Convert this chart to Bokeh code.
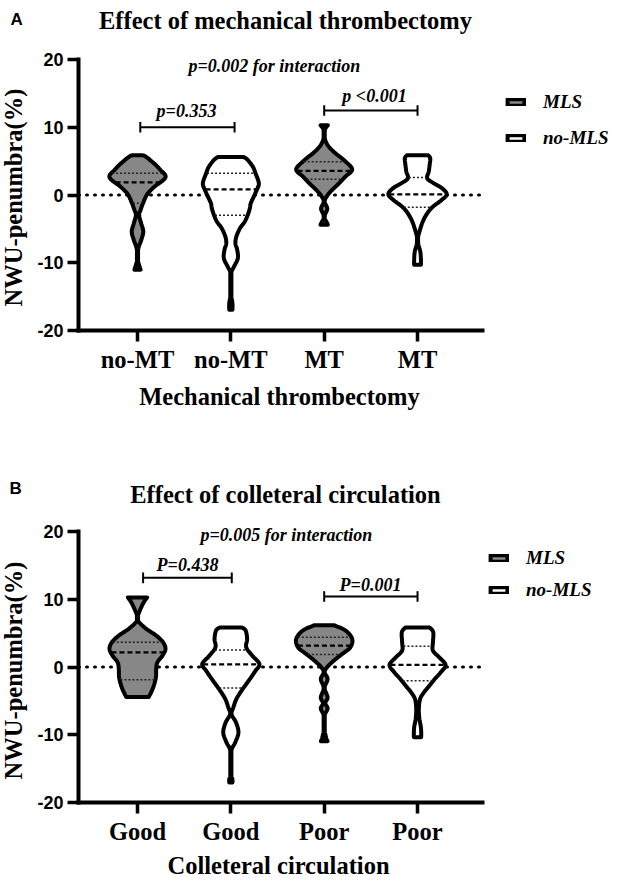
import numpy as np
from bokeh.plotting import figure
from bokeh.models import Range1d, FixedTicker, Label, Legend, LegendItem
from bokeh.layouts import column
from bokeh.embed import file_html
from bokeh.resources import INLINE

# ---------------- data ----------------
groups_a = ["no-MT", "no-MT", "MT", "MT"]
groups_b = ["Good", "Good", "Poor", "Poor"]
series = ["MLS", "no-MLS", "MLS", "no-MLS"]
y_ticks = [-20, -10, 0, 10, 20]

# violin profiles: NWU-penumbra level and relative density (1 = widest)
a1_y = [6.16, 5.7, 4.7, 3.7, 2.6, 1.22, 0.1, -1.23, -2.2, -2.95, -4.19, -5.42, -6.65, -7.64, -8.6, -9.6, -10.34, -11.32]
a1_d = [0.22, 0.33, 0.61, 0.83, 1.0, 0.63, 0.39, 0.25, 0.17, 0.12, 0.19, 0.26, 0.19, 0.11, 0.07, 0.08, 0.12, 0.17]
a2_y = [5.91, 5.17, 4.18, 3.2, 1.72, 0.74, -0.25, -1.23, -1.97, -2.95, -3.94, -4.92, -6.15, -7.14, -8.12, -9.36, -10.59, -11.57, -13.05, -14.52, -16.0, -17.24]
a2_d = [0.5, 0.63, 0.8, 0.89, 1.0, 0.93, 0.83, 0.73, 0.7, 0.63, 0.53, 0.37, 0.25, 0.22, 0.28, 0.3, 0.17, 0.07, 0.07, 0.07, 0.12, 0.12]
a3_y = [10.59, 9.85, 9.11, 8.13, 7.14, 6.16, 5.17, 3.79, 2.71, 1.72, 0.74, -0.15, -0.98, -1.97, -2.71, -3.3, -3.94, -4.68]
a3_d = [0.19, 0.11, 0.06, 0.1, 0.22, 0.44, 0.72, 1.0, 0.77, 0.56, 0.33, 0.16, 0.08, 0.17, 0.11, 0.06, 0.14, 0.19]
a4_y = [6.16, 5.42, 4.43, 3.45, 2.46, 1.72, 0.98, 0.1, -0.74, -1.72, -2.71, -3.94, -5.42, -6.4, -7.39, -8.37, -9.6, -10.6]
a4_d = [0.42, 0.49, 0.47, 0.44, 0.39, 0.61, 0.89, 1.04, 0.87, 0.58, 0.39, 0.24, 0.13, 0.08, 0.1, 0.16, 0.18, 0.18]

b1_y = [10.57, 9.58, 8.59, 7.36, 6.62, 5.63, 4.64, 3.65, 2.67, 1.68, 0.69, -0.3, -1.53, -2.77, -3.75, -4.74]
b1_d = [0.39, 0.28, 0.17, 0.07, 0.12, 0.36, 0.69, 0.92, 1.0, 0.9, 0.73, 0.69, 0.68, 0.61, 0.52, 0.44]
b2_y = [6.12, 5.38, 4.15, 2.91, 1.68, 0.44, -0.54, -1.53, -2.52, -3.51, -4.74, -5.98, -6.96, -8.2, -9.68, -11.16, -12.25, -14.1, -15.85, -16.59, -17.33]
b2_d = [0.44, 0.56, 0.61, 0.58, 0.78, 1.02, 0.89, 0.74, 0.58, 0.42, 0.25, 0.15, 0.09, 0.24, 0.32, 0.21, 0.09, 0.07, 0.08, 0.12, 0.12]
b3_y = [6.47, 5.38, 4.15, 2.91, 1.93, 0.94, -0.05, -0.79, -1.78, -3.1, -4.49, -5.33, -6.12, -7.21, -9.19, -10.4, -11.26]
b3_d = [0.39, 0.78, 1.0, 0.94, 0.67, 0.39, 0.16, 0.08, 0.18, 0.08, 0.18, 0.1, 0.18, 0.08, 0.08, 0.13, 0.18]
b4_y = [6.12, 5.14, 3.65, 2.42, 1.43, 0.3, -0.79, -1.78, -2.77, -3.75, -4.74, -6.22, -7.7, -8.94, -10.17, -10.67]
b4_d = [0.47, 0.59, 0.58, 0.58, 0.79, 1.0, 0.84, 0.64, 0.46, 0.28, 0.15, 0.11, 0.13, 0.18, 0.19, 0.18]

# quartiles and medians
a_q1 = [-1.23, -3.0, 2.31, -1.82]
a_med = [1.87, 0.84, 3.55, 0.1]
a_q3 = [3.2, 3.2, 4.92, 2.6]
b_q1 = [-1.88, -3.1, 1.83, -2.02]
b_med = [2.17, 0.4, 3.16, 0.3]
b_q3 = [3.65, 2.52, 4.4, 3.05]

a_title = "Effect of mechanical thrombectomy"
b_title = "Effect of colleteral circulation"
a_xlabel = "Mechanical thrombectomy"
b_xlabel = "Colleteral circulation"
y_label = "NWU-penumbra(%)"
a_inter = "p=0.002 for interaction"
b_inter = "p=0.005 for interaction"
a_pairs = ["p=0.353", "p <0.001"]
b_pairs = ["P=0.438", "P=0.001"]

# ---------------- layout constants ----------------
W = 624
FL, FR, FT, FH = 78, 482, 59, 271          # plotting area inside each figure (px)
X0, X1 = 0.368, 4.696                      # x extent of the axes
PXX = (FR - FL) / (X1 - X0)
PXY = FH / 40.0
MAXW = 30.0 / PXX
STROKE_X = 2.0 / PXX
STROKE_Y = 2.0 / PXY
SERIF = "Liberation Serif"
SANS = "Liberation Sans"
GRAY = "#878787"
BASE_FIX = 0.32        # renderer places "alphabetic" text this many em low
fills = {"MLS": GRAY, "no-MLS": "white"}


def dx(fx):
    return X0 + (fx - FL) / PXX


def dy(fy):
    return 20.0 - (fy - FT) / PXY


def smooth(y, d, n=10):
    pts = np.column_stack([y, d]).astype(float)
    P = np.vstack([pts[0], pts, pts[-1]])
    out = []
    for i in range(1, len(P) - 2):
        p0, p1, p2, p3 = P[i - 1], P[i], P[i + 1], P[i + 2]
        for t in np.linspace(0, 1, n, endpoint=False):
            t2, t3 = t * t, t * t * t
            out.append(0.5 * (2 * p1 + (-p0 + p2) * t + (2 * p0 - 5 * p1 + 4 * p2 - p3) * t2
                              + (-p0 + 3 * p1 - 3 * p2 + p3) * t3))
    out.append(P[-2])
    a = np.array(out)
    return a[:, 0], a[:, 1]


def violin(p, c, y, d, fill, q1, med, q3):
    y = np.array(y, float)
    y[0] -= STROKE_Y
    y[-1] += STROKE_Y
    ys, ds = smooth(y, d)
    hw = np.maximum(ds * MAXW - STROKE_X, 0.006)
    xs = np.concatenate([c + hw, (c - hw)[::-1]])
    yy = np.concatenate([ys, ys[::-1]])
    r = p.patch(xs, yy, fill_color=fill, line_color="black", line_width=4, line_join="round")
    asc_y, asc_w = ys[::-1], hw[::-1]
    for q, dash, lw, col in ((q1, "2 2", 1.5, "#222222"), (q3, "2 2", 1.5, "#222222"),
                             (med, "5 3", 2.2, "black")):
        w = np.interp(q, asc_y, asc_w) - 0.01
        p.segment(x0=[c - w], x1=[c + w], y0=[q], y1=[q], line_color=col, line_width=lw, line_dash=dash)
    return r


def bracket(p, xa, xb, yb):
    h = 5.3 / PXY
    p.segment(x0=[xa, xa, xb], x1=[xb, xa, xb], y0=[yb, yb - h, yb - h], y1=[yb, yb + h, yb + h],
              line_color="black", line_width=2)


def text(p, s, fx, fy, size, style, font=SERIF, align="center", angle=0.0):
    fix = BASE_FIX * size
    if angle:
        fx -= fix
    else:
        fy -= fix
    p.add_layout(Label(x=dx(fx), y=dy(fy), text=s, text_font=font, text_font_size=f"{size}px",
                       text_font_style=style, text_align=align, text_baseline="alphabetic",
                       text_color="black", angle=angle))


def panel(height, groups, profiles, q1, med, q3, letter, letter_pos, title, title_pos,
          inter, inter_pos, pairs, pair_pos, brackets, ylab_y, xlabel, xlabel_pos, leg_x, leg_top, leg_sp):
    p = figure(width=W, height=height, x_range=Range1d(dx(0), dx(W)), y_range=Range1d(dy(height), dy(0)),
               output_backend="svg", toolbar_location=None, min_border=0)
    p.grid.visible = False
    p.outline_line_color = None
    p.xaxis.fixed_location = -20
    p.yaxis.fixed_location = X0
    p.xaxis.bounds = (X0, X1)
    p.yaxis.bounds = (-20, 20)
    for ax in (p.xaxis, p.yaxis):
        ax.axis_line_width = 4
        ax.axis_line_cap = "square"
        ax.major_tick_line_width = 3.5
        ax.major_tick_in = 0
        ax.major_tick_out = 11
        ax.minor_tick_in = 0
        ax.minor_tick_out = 0
        ax.major_label_standoff = 4
        ax.major_label_text_color = "black"
    p.xaxis.ticker = FixedTicker(ticks=[1, 2, 3, 4])
    p.xaxis.major_label_overrides = {i + 1: g for i, g in enumerate(groups)}
    p.xaxis.major_label_text_font = SERIF
    p.xaxis.major_label_text_font_style = "bold"
    p.xaxis.major_label_text_font_size = "24.5px"
    p.yaxis.ticker = FixedTicker(ticks=y_ticks)
    p.yaxis.major_label_overrides = {t: str(t) for t in y_ticks}
    p.yaxis.major_label_text_font = SANS
    p.yaxis.major_label_text_font_style = "bold"
    p.yaxis.major_label_text_font_size = "18px"

    # dotted zero reference line
    p.segment(x0=[X0], x1=[X1], y0=[0], y1=[0], line_color="black", line_width=3,
              line_dash="1 7", line_cap="round")

    rends = {}
    for i, (y, d) in enumerate(profiles):
        r = violin(p, i + 1, y, d, fills[series[i]], q1[i], med[i], q3[i])
        rends.setdefault(series[i], r)

    for (xa, xb, yb) in brackets:
        bracket(p, xa, xb, yb)

    lh = 22
    leg_h = 2 * lh + leg_sp
    leg_top_px = leg_top - lh / 2
    legend = Legend(items=[LegendItem(label=s, renderers=[rends[s]]) for s in ("MLS", "no-MLS")],
                    location=(FR + leg_x, height - leg_top_px - leg_h), orientation="vertical",
                    glyph_width=21, glyph_height=8, label_standoff=17, label_height=lh,
                    spacing=leg_sp, padding=0, margin=0, border_line_color=None,
                    background_fill_alpha=0, label_text_font=SERIF, label_text_color="black",
                    label_text_font_style="bold italic", label_text_font_size="19px")
    p.add_layout(legend)

    text(p, letter, letter_pos[0], letter_pos[1], 17, "bold", font=SANS, align="left")
    text(p, title, title_pos[0], title_pos[1], 24.5, "bold")
    text(p, inter, inter_pos[0], inter_pos[1], 18, "bold italic")
    for s, (fx, fy) in zip(pairs, pair_pos):
        text(p, s, fx, fy, 18, "bold italic")
    text(p, y_label, 21, ylab_y, 24.5, "bold", angle=np.pi / 2)
    text(p, xlabel, xlabel_pos[0], xlabel_pos[1], 24.5, "bold")
    return p


pa = panel(472, groups_a, [(a1_y, a1_d), (a2_y, a2_d), (a3_y, a3_d), (a4_y, a4_d)],
           a_q1, a_med, a_q3, "A", (10, 24), a_title, (285, 28.3),
           a_inter, (274, 71.7), a_pairs, [(186, 116.7), (374, 101.7)],
           [(1.03, 2.04, 10.0), (3.0, 4.0, 12.47)], 197, a_xlabel, (279, 404),
           23, 102, 14)
pb = panel(409, groups_b, [(b1_y, b1_d), (b2_y, b2_d), (b3_y, b3_d), (b4_y, b4_d)],
           b_q1, b_med, b_q3, "B", (9, 21.3), b_title, (285, 29.7),
           b_inter, (286, 68), b_pairs, [(187, 98.7), (370, 118)],
           [(1.06, 2.01, 13.16), (3.0, 4.0, 10.41)], 198, b_xlabel, (278, 401),
           6, 86, 10)

layout = column(pa, pb, spacing=0)
open("out.html", "w").write(file_html(layout, INLINE))
